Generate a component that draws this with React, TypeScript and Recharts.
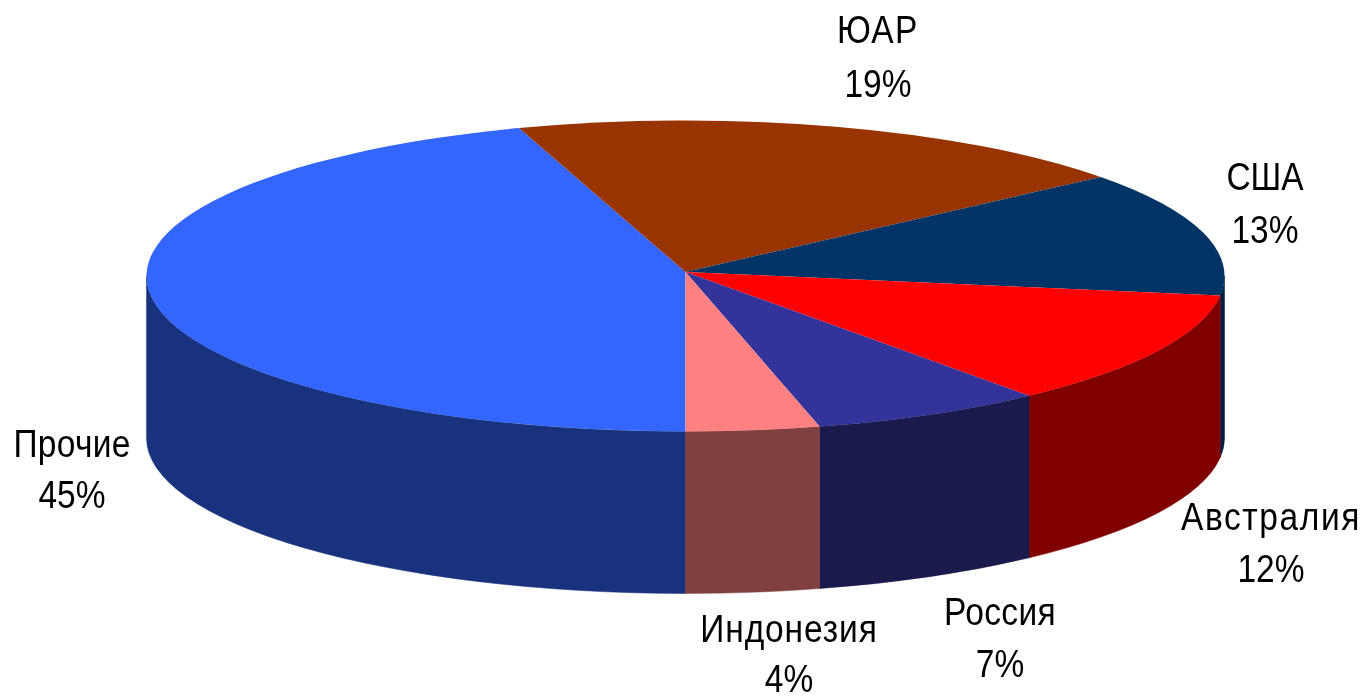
import React from 'react';
import { PieChart, Pie } from 'recharts';

const countries = ['Прочие', 'ЮАР', 'США', 'Австралия', 'Россия', 'Индонезия'];
const shares = [45, 19, 13, 12, 7, 4];
const topColors = ['#3366ff', '#993300', '#003366', '#ff0000', '#333399', '#ff8080'];
const wallColors = ['#18327d', '#4d1a00', '#001c3f', '#800000', '#1a1a4d', '#804040'];

const chartData = countries.map((name, i) => ({
  name,
  value: shares[i],
  fill: topColors[i],
  wall: wallColors[i],
}));

// label centre x, first baseline y, second baseline y, letter spacing
const labelSpots: Record<string, [number, number, number, number]> = {
  'Прочие': [72, 457, 508, 0.3],
  'ЮАР': [878, 43, 97, 1.5],
  'США': [1265, 190, 243, 0],
  'Австралия': [1271, 530, 582, 1.6],
  'Россия': [1000, 625, 677, 0.4],
  'Индонезия': [789, 642, 692, 0.9],
};

const CX = 685.5;
const CY = 276;
const RX = 539;
const RY = 155.5;
const DEPTH = 162;
const APEX_LIFT = 4;
const TEXT_STRETCH = 1.15; // the source picture was stretched vertically

const onRim = (t: number, drop = 0) => {
  const rad = (t * Math.PI) / 180;
  return [CX - RX * Math.sin(rad), CY + drop + RY * Math.cos(rad)];
};

const arcTo = (t0: number, t1: number, drop = 0) => {
  const [x, y] = onRim(t1, drop);
  const large = Math.abs(t1 - t0) > 180 ? 1 : 0;
  const sweep = t1 > t0 ? 1 : 0;
  return `A ${RX} ${RY} 0 ${large} ${sweep} ${x} ${y}`;
};

// only the part of the rim facing the viewer gets a side wall
const wallPath = (from: number, to: number) => {
  const [x0, y0] = onRim(from);
  const [x1, y1] = onRim(to, DEPTH);
  return `M ${x0} ${y0} ${arcTo(from, to)} L ${x1} ${y1} ${arcTo(to, from, DEPTH)} Z`;
};

const Slice3D = (props: any) => {
  const { startAngle, endAngle, fill, payload } = props;
  const t0 = 270 - startAngle;
  const t1 = 270 - endAngle;
  const spans = [
    [Math.max(t0, 0), Math.min(t1, 90)],
    [Math.max(t0, 270), Math.min(t1, 360)],
  ].filter(([a, b]) => b > a);
  const [sx, sy] = onRim(t0);
  const wall = payload?.wall ?? props.wall;
  return (
    <g>
      {spans.map(([a, b]) => (
        <path key={a} d={wallPath(a, b)} fill={wall} stroke={wall} strokeWidth={0.5} />
      ))}
      <path d={`M ${CX} ${CY - APEX_LIFT} L ${sx} ${sy} ${arcTo(t0, t1)} Z`} fill={fill} />
    </g>
  );
};

const SliceLabel = (props: any) => {
  const { name, value } = props;
  const [x, y1, y2, spacing] = labelSpots[name];
  const line = (content: string, y: number, ls: number) => (
    <text
      transform={`translate(${x} ${y}) scale(1 ${TEXT_STRETCH})`}
      textAnchor="middle"
      fontFamily="Liberation Sans"
      fontSize={33.5}
      letterSpacing={ls}
      fill="#000"
    >
      {content}
    </text>
  );
  return (
    <g>
      {line(name, y1, spacing)}
      {line(`${value}%`, y2, 0)}
    </g>
  );
};

export default function App() {
  return (
    <div style={{ position: 'absolute', left: 0, top: 0, width: 1365, height: 696, background: '#fff', overflow: 'hidden', filter: 'blur(0.5px)' }}>
      <PieChart width={1365} height={696} margin={{ top: 0, right: 0, bottom: 0, left: 0 }}>
        <Pie
          data={chartData}
          dataKey="value"
          nameKey="name"
          cx={CX}
          cy={CY}
          innerRadius={0}
          outerRadius={RX}
          startAngle={270}
          endAngle={-90}
          stroke="none"
          shape={Slice3D}
          label={SliceLabel}
          labelLine={false}
          isAnimationActive={false}
        />
      </PieChart>
    </div>
  );
}
